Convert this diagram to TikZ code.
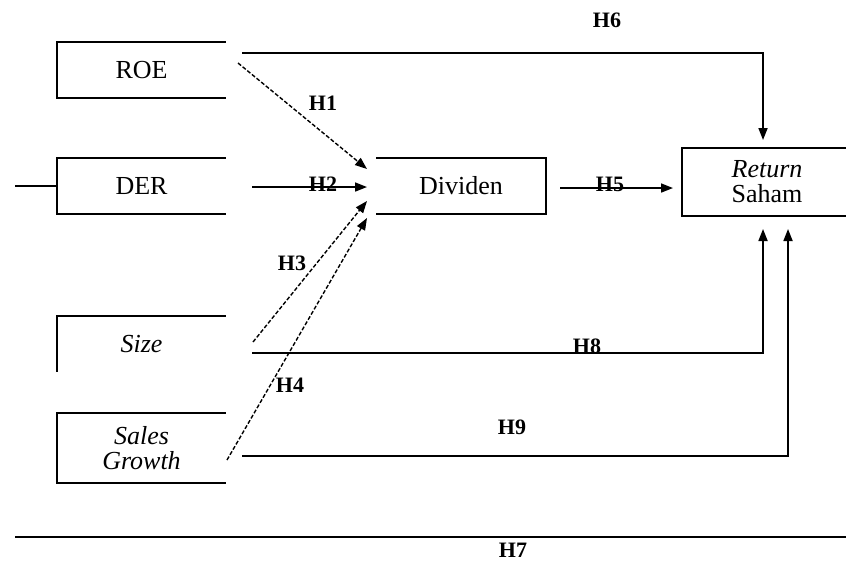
\documentclass[tikz,border=0pt]{standalone}
\usepackage{fontspec}
\setmainfont{Liberation Serif}
\usetikzlibrary{arrows.meta}

\begin{document}
\begin{tikzpicture}[x=1pt,y=-1pt,
  line width=1.7pt,
  varbox/.style={draw=none,inner sep=0pt,font=\fontsize{26}{25}\selectfont,align=center},
  hlabel/.style={inner sep=0pt,font=\bfseries\fontsize{22}{22}\selectfont},
  tip/.style={-{Triangle[length=12pt,width=9pt]}},
  dashedarrow/.style={tip,line width=1.4pt,dash pattern=on 4pt off 2pt},
  solidarrow/.style={tip,line width=1.7pt}]

\useasboundingbox (0,0) rectangle (846,562);
\clip (0,0) rectangle (846,562);

% variable boxes (left column)
\node[varbox,minimum width=167pt,minimum height=54pt] (roe) at (141.5,70) {ROE};
\node[varbox,minimum width=167pt,minimum height=54pt] (der) at (141.5,186) {DER};
\node[varbox,minimum width=167pt,minimum height=54pt] (size) at (141.5,344) {\itshape Size};
\node[varbox,minimum width=167pt,minimum height=68pt] (sales) at (141.5,448) {\itshape Sales\\\itshape Growth};

% mediating and dependent variables
\node[varbox,minimum width=168pt,minimum height=54pt] (div) at (461,186) {Dividen};
\node[varbox,minimum width=168pt,minimum height=66pt] (ret) at (767,182) {\itshape Return\\Saham};

% open-sided box outlines
\draw (roe.north east) -- (roe.north west) -- (roe.south west) -- (roe.south east);
\draw (der.north east) -- (der.north west) -- (der.south west) -- (der.south east);
\draw (size.north east) -- (size.north west) -- (size.south west);
\draw (sales.north east) -- (sales.north west) -- (sales.south west) -- (sales.south east);
\draw (div.north west) -- (div.north east) -- (div.south east) -- (div.south west);
\draw (ret.north east) -- (ret.north west) -- (ret.south west) -- (ret.south east);

% line entering DER from the left
\coordinate (derin) at (15,186);
\draw (derin) -- (der.west);

% arrow end points to the left of Dividen
\coordinate (t1) at (367,169);
\coordinate (t2) at (367,187);
\coordinate (t3) at (367,201);
\coordinate (t4) at (367,218);

% arrow start points beside the left boxes
\coordinate (s1) at (238,63);
\coordinate (s2) at (252,187);
\coordinate (s3) at (253,342);
\coordinate (s4) at (227,460);

\draw[dashedarrow] (s1) -- (t1);
\draw[solidarrow] (s2) -- (t2);
\draw[dashedarrow] (s3) -- (t3);
\draw[dashedarrow] (s4) -- (t4);

% Dividen -> Return Saham
\coordinate (s5) at (560,188);
\coordinate (t5) at (673,188);
\draw[solidarrow] (s5) -- (t5);

% direct paths to Return Saham
\coordinate (s6) at (242,53);
\coordinate (t6) at (763,140);
\draw[solidarrow] (s6) -| (t6);

\coordinate (s8) at (252,353);
\coordinate (t8) at (763,229);
\draw[solidarrow] (s8) -| (t8);

\coordinate (s9) at (242,456);
\coordinate (t9) at (788,229);
\draw[solidarrow] (s9) -| (t9);

% H7 line
\coordinate (a7) at (15,537);
\coordinate (b7) at (846,537);
\draw (a7) -- (b7);

% hypothesis labels
\node[hlabel] (h6) at (607,20) {H6};
\node[hlabel] (h1) at (323,103) {H1};
\node[hlabel] (h2) at (323,184) {H2};
\node[hlabel] (h5) at (610,184) {H5};
\node[hlabel] (h3) at (292,263) {H3};
\node[hlabel] (h4) at (290,385) {H4};
\node[hlabel] (h8) at (587,346) {H8};
\node[hlabel] (h9) at (512,427) {H9};
\node[hlabel] (h7) at (513,550) {H7};
\end{tikzpicture}
\end{document}
